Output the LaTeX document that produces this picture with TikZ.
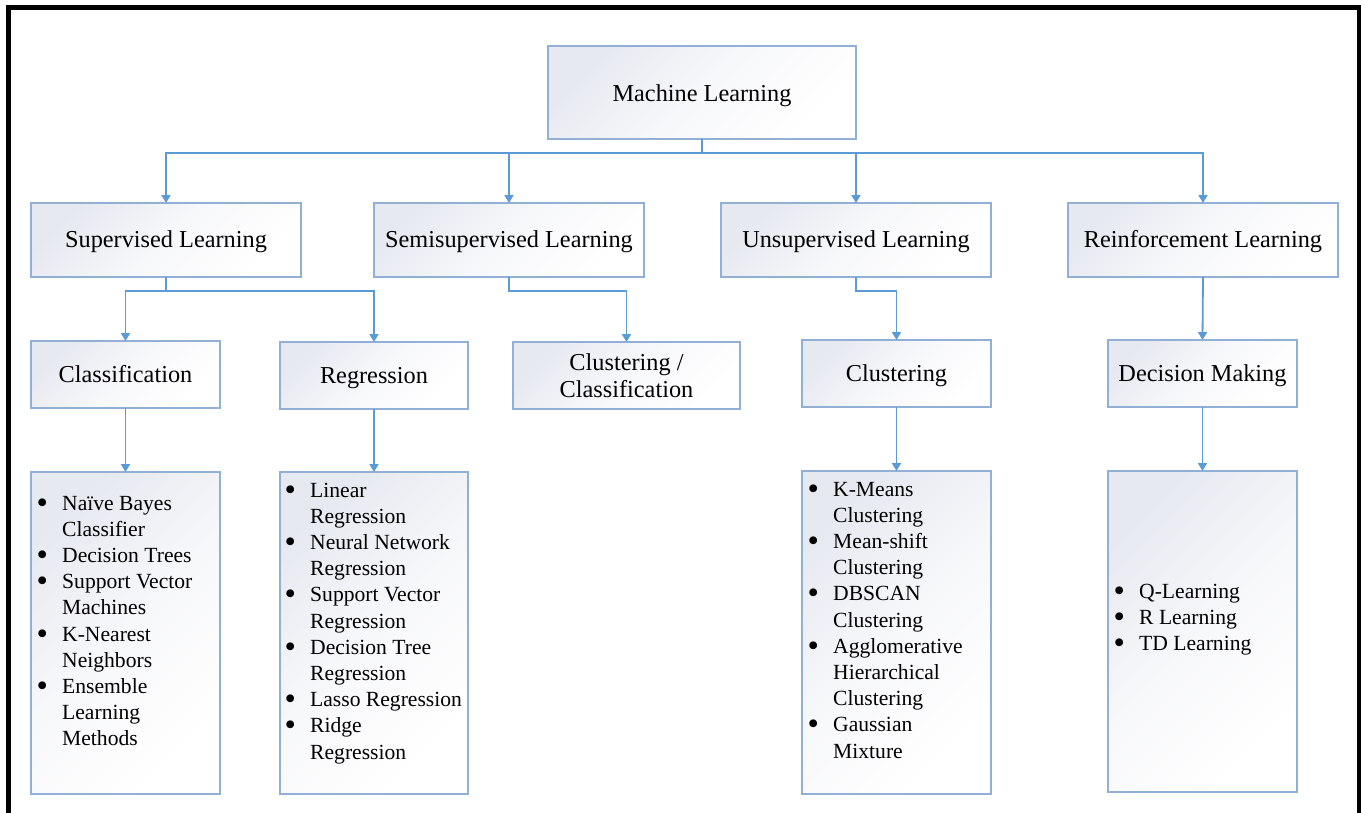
\documentclass[tikz,border=0pt]{standalone}
\usepackage{fontspec}
\usepackage{graphicx}
\setmainfont{Liberation Serif}
\usetikzlibrary{arrows.meta}
\definecolor{connc}{HTML}{5B9BD5}
\definecolor{bordc}{HTML}{92AFD6}
\definecolor{shdc}{HTML}{E6E9F0}
\definecolor{shdm}{HTML}{F7F8FA}
\newcommand{\lbul}{\makebox[25.7pt][l]{\smash{\raisebox{-3pt}{\scalebox{1.5}{\textbullet}}}}}
\newcommand{\lind}{\hspace*{25.7pt}}
\begin{document}
\begin{tikzpicture}[x=1pt,y=-1pt,
 box/.style={draw=bordc, line width=1.3pt, top color=shdc, bottom color=white, middle color=shdm, shading angle=45, inner sep=0pt, outer sep=0pt},
 headbase/.style={box, font=\fontsize{24.3}{27}\selectfont},
 head/.style={headbase, text height=17pt, text depth=2pt},
 lst/.style={inner sep=0pt, anchor=base west, font=\fontsize{21.6}{26.2}\selectfont},
 conn/.style={draw=connc, line width=1.8pt, -{Triangle[width=9pt,length=8pt]}}]
\useasboundingbox (0,0) rectangle (1361,812);
\fill[white] (0,0) rectangle (1361,812);
\draw[line width=4.5pt] (8.25,830) -- (8.25,7.25) -- (1359,7.25) -- (1359,830);

% level 0
\node[head, minimum width=308pt, minimum height=93pt, text depth=0pt] (ml) at (702,92.5) {Machine Learning};
% level 1
\node[head, minimum width=270pt, minimum height=74pt] (sup) at (166,240) {Supervised Learning};
\node[head, minimum width=270pt, minimum height=74pt] (semi) at (509,240) {Semisupervised Learning};
\node[head, minimum width=270pt, minimum height=74pt] (unsup) at (856,240) {Unsupervised Learning};
\node[head, minimum width=270pt, minimum height=74pt] (reinf) at (1203,240) {Reinforcement Learning};
% level 2
\node[head, minimum width=189pt, minimum height=67pt] (class) at (125.5,374.5) {Classification};
\node[head, minimum width=188pt, minimum height=67pt] (regr) at (374,375.5) {Regression};
\node[headbase, align=center, minimum width=227pt, minimum height=67pt] (clcl) at (626.5,375.5) {Clustering /\\Classification};
\node[head, minimum width=189pt, minimum height=67pt] (clust) at (896.5,373.5) {Clustering};
\node[head, minimum width=189pt, minimum height=67pt] (dec) at (1202.5,373.5) {Decision Making};
% level 3 boxes
\node[box, minimum width=189pt, minimum height=322pt] (classB) at (125.5,633) {};
\node[box, minimum width=188pt, minimum height=322pt] (regrB) at (374,633) {};
\node[box, minimum width=189pt, minimum height=323pt] (clustB) at (896.5,632.5) {};
\node[box, minimum width=189pt, minimum height=321pt] (decB) at (1202.5,631.5) {};

% list texts
\node[lst] (classT) at (36.3,510) {\begin{tabular}[t]{@{}l@{}}
\lbul Naïve Bayes\\ \lind Classifier\\ \lbul Decision Trees\\ \lbul Support Vector\\ \lind Machines\\
\lbul K-Nearest\\ \lind Neighbors\\ \lbul Ensemble\\ \lind Learning\\ \lind Methods\end{tabular}};
\node[lst] (regrT) at (284.3,497) {\begin{tabular}[t]{@{}l@{}}
\lbul Linear\\ \lind Regression\\ \lbul Neural Network\\ \lind Regression\\ \lbul Support Vector\\ \lind Regression\\
\lbul Decision Tree\\ \lind Regression\\ \lbul Lasso Regression\\ \lbul Ridge\\ \lind Regression\end{tabular}};
\node[lst] (clustT) at (807.3,496) {\begin{tabular}[t]{@{}l@{}}
\lbul K-Means\\ \lind Clustering\\ \lbul Mean-shift\\ \lind Clustering\\ \lbul DBSCAN\\ \lind Clustering\\
\lbul Agglomerative\\ \lind Hierarchical\\ \lind Clustering\\ \lbul Gaussian\\ \lind Mixture\end{tabular}};
\node[lst] (decT) at (1113.3,598) {\begin{tabular}[t]{@{}l@{}}
\lbul Q-Learning\\ \lbul R Learning\\ \lbul TD Learning\end{tabular}};

% connectors
\draw[conn] (ml.south) -- ++(0,14) -| (sup.north);
\draw[conn] (ml.south) -- ++(0,14) -| (semi.north);
\draw[conn] (ml.south) -- ++(0,14) -| (unsup.north);
\draw[conn] (ml.south) -- ++(0,14) -| (reinf.north);
\draw[conn] (sup.south) -- ++(0,14) -| (class.north);
\draw[conn] (sup.south) -- ++(0,14) -| (regr.north);
\draw[conn] (semi.south) -- ++(0,14) -| (clcl.north);
\draw[conn] (unsup.south) -- ++(0,14) -| (clust.north);
\draw[conn] (reinf.south) -- (dec.north);
\draw[conn] (class.south) -- (classB.north);
\draw[conn] (regr.south) -- (regrB.north);
\draw[conn] (clust.south) -- (clustB.north);
\draw[conn] (dec.south) -- (decB.north);
\end{tikzpicture}
\end{document}
